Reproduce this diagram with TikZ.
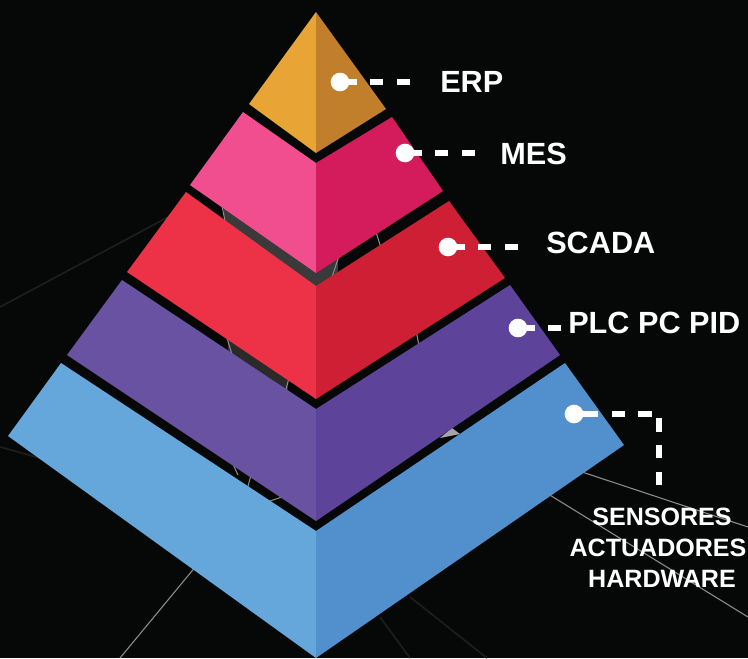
\documentclass[tikz,border=0pt]{standalone}
\usepackage{fontspec}
\setmainfont{Liberation Sans}
\definecolor{bgC}{HTML}{060807}
\definecolor{erpL}{HTML}{E8A434}
\definecolor{erpR}{HTML}{C17F2C}
\definecolor{mesL}{HTML}{F04E8F}
\definecolor{mesR}{HTML}{D41C5C}
\definecolor{scaL}{HTML}{ED3147}
\definecolor{scaR}{HTML}{CE1F34}
\definecolor{plcL}{HTML}{6A52A2}
\definecolor{plcR}{HTML}{5D449A}
\definecolor{basL}{HTML}{65A7DB}
\definecolor{basR}{HTML}{5190CD}
\definecolor{wireC}{HTML}{8C8C8C}
\definecolor{faintC}{HTML}{1C1E1E}
\definecolor{backC}{HTML}{3A3A3A}
\definecolor{backD}{HTML}{2A2A2A}
\begin{document}
\begin{tikzpicture}[x=0.75pt,y=-0.75pt,
  dot/.style={circle,fill=white,inner sep=0pt,minimum size=14pt},
  leader/.style={draw=white,line width=5pt,
    dash pattern=on 12.75pt off 9.75pt on 9.75pt off 10.5pt on 9.75pt off 10.5pt},
  leaderbase/.style={draw=white,line width=5pt,
    dash pattern=on 18pt off 10.5pt on 9.75pt off 9.75pt on 10.5pt off 8.25pt on 10.5pt off 9.75pt on 9.75pt off 10.5pt on 9.75pt off 10pt},
  lbl/.style={text=white,font=\bfseries\fontsize{23}{27}\selectfont,inner sep=0pt,anchor=base west},
  lbls/.style={text=white,font=\bfseries\fontsize{18.8}{22}\selectfont,inner sep=0pt,anchor=base},
  wire/.style={draw=wireC,line width=0.8pt},
  faint/.style={draw=faintC,line width=1.3pt}]
\useasboundingbox (0,0) rectangle (748,658);
\fill[bgC] (0,0) rectangle (748,658);
% background wireframe
\draw[faint] (0,307) -- (200,200);
\draw[faint] (0,447) -- (40,458);
\draw[faint] (380,617) -- (410,658);
\draw[faint] (410,597) -- (487,658);
\draw[wire] (120,658) -- (230,525);
\draw[wire] (540,489) -- (748,617);
\draw[wire] (570,468) -- (748,527);
% glimpses behind the layers
\fill[backC] (224,195) rectangle (338,300);
\fill[backD] (228,330) rectangle (288,400);
\draw[wire] (221,200) -- (227,232);
\draw[wire] (376,232) -- (381,248);
\draw[wire] (339,256) -- (331,280);
\draw[wire] (227,338) -- (233,358);
\draw[wire] (289,378) -- (285,393);
\draw[wire] (416,330) -- (419,346);
\draw[wire] (232,462) -- (238,475);
\draw[wire] (251,475) -- (247,490);
\draw[wire] (282,497) -- (270,501);
\fill[gray!70] (440,438) -- (452,428) -- (460,434) -- cycle;
% ERP
\fill[erpL] (316,12) -- (249,104) -- (316,153) -- cycle;
\fill[erpR] (316,12) -- (316,153) -- (386,109) -- cycle;
% MES
\fill[mesL] (316,163) -- (243,112) -- (190,185) -- (316,273) -- cycle;
\fill[mesR] (316,163) -- (316,273) -- (443,191) -- (392,117) -- cycle;
% SCADA
\fill[scaL] (316,286) -- (186,192) -- (127,272) -- (316,399) -- cycle;
\fill[scaR] (316,286) -- (316,399) -- (505,278) -- (449,201) -- cycle;
% PLC
\fill[plcL] (316,409) -- (122,280) -- (67,355) -- (316,521) -- cycle;
\fill[plcR] (316,409) -- (316,521) -- (560,355) -- (510,285) -- cycle;
% Base
\fill[basL] (316,531) -- (61,363) -- (8,436) -- (316,658) -- cycle;
\fill[basR] (316,531) -- (316,658) -- (624,445) -- (565,363) -- cycle;
% markers
\node[dot] (dERP) at (340,82) {};
\node[dot] (dMES) at (405,153) {};
\node[dot] (dSCA) at (448,247) {};
\node[dot] (dPLC) at (518,328) {};
\node[dot] (dBAS) at (574,414) {};
\coordinate (eERP) at (410,82);
\coordinate (eMES) at (475,153);
\coordinate (eSCA) at (519,247);
\coordinate (ePLC) at (561,328);
\coordinate (kBAS) at (659,414);
\coordinate (eBAS) at (659,485);
\draw[leader] (dERP.center) -- (eERP);
\draw[leader] (dMES.center) -- (eMES);
\draw[leader] (dSCA.center) -- (eSCA);
\draw[leader] (dPLC.center) -- (ePLC);
\draw[leaderbase] (dBAS.center) -- (kBAS) -- (eBAS);
% labels
\node[lbl] (tERP) at (440,92) {ERP};
\node[lbl] (tMES) at (500,164) {MES};
\node[lbl] (tSCA) at (546,253) {SCADA};
\node[lbl] (tPLC) at (568,333) {PLC PC PID};
\node[lbls] (tB1) at (662,525) {SENSORES};
\node[lbls] (tB2) at (658,556) {ACTUADORES};
\node[lbls] (tB3) at (662,587) {HARDWARE};
\end{tikzpicture}
\end{document}
